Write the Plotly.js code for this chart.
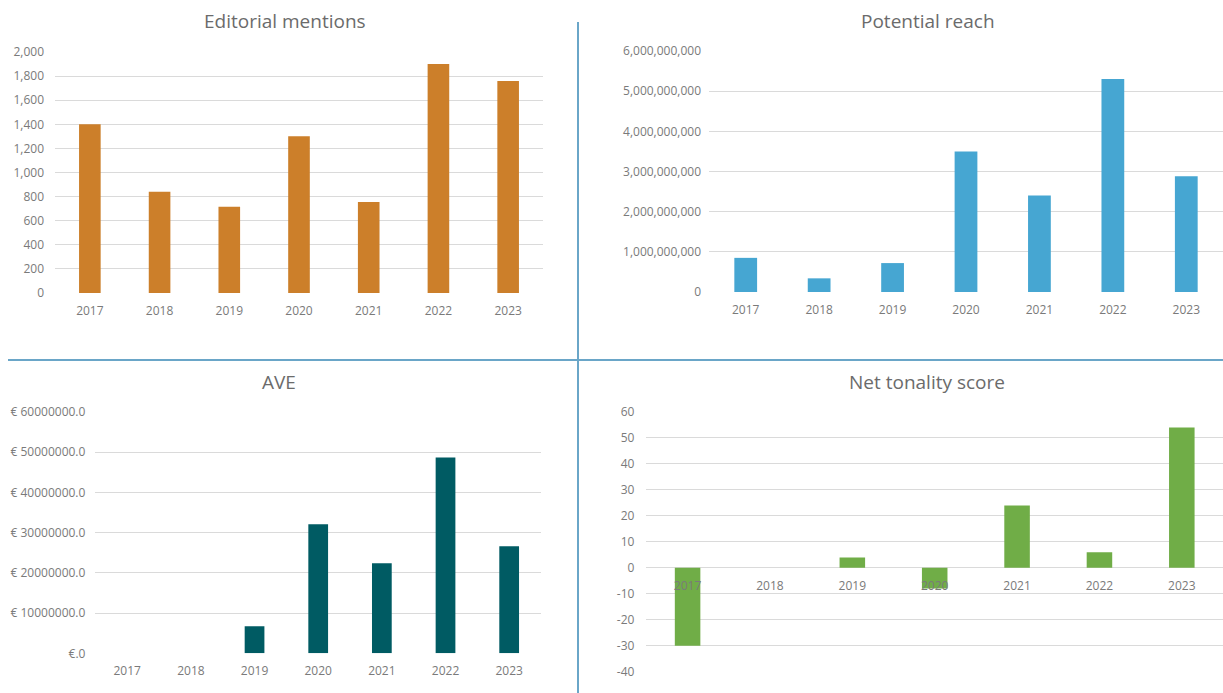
<!DOCTYPE html>
<html>
<head>
<meta charset="utf-8">
<script src="https://cdn.plot.ly/plotly-3.0.1.min.js"></script>
<style>html,body{margin:0;padding:0;background:#fff;}#chart{width:1223px;height:693px;}</style>
</head>
<body>
<div id="chart"></div>
<script>
// ---- Data ----
const years = ['2017', '2018', '2019', '2020', '2021', '2022', '2023'];
const editorialMentions = [1400, 840, 715, 1300, 755, 1900, 1760];
const potentialReach = [850000000, 340000000, 720000000, 3500000000, 2400000000, 5300000000, 2880000000];
const ave = [0, 0, 6700000, 32100000, 22400000, 48700000, 26600000];
const netTonality = [-30, 0, 4, -8, 24, 6, 54];

const titles = ['Editorial mentions', 'Potential reach', 'AVE', 'Net tonality score'];
const aveTickVals = [0, 10000000, 20000000, 30000000, 40000000, 50000000, 60000000];
const aveTickText = ['€.0', '€ 10000000.0', '€ 20000000.0', '€ 30000000.0', '€ 40000000.0', '€ 50000000.0', '€ 60000000.0'];
const ntsTickVals = [-40, -30, -20, -10, 0, 10, 20, 30, 40, 50, 60];
const ntsTickText = ['-40', '-30', '-20', '-10', '0', '10', '20', '30', '40', '50', '60'];

// ---- Styling ----
const W = 1223, H = 693;
const FONT = 'Open Sans, sans-serif';
const tickFont = {family: FONT, size: 12, color: '#7a7a7a'};
const gridColor = '#dadada';
const px = v => v / W;
const py = v => 1 - v / H;

const traces = [
  {type: 'bar', x: years, y: editorialMentions, xaxis: 'x', yaxis: 'y', marker: {color: '#CC7F2A'}},
  {type: 'bar', x: years, y: potentialReach, xaxis: 'x2', yaxis: 'y2', marker: {color: '#46A6D2'}},
  {type: 'bar', x: years, y: ave, xaxis: 'x3', yaxis: 'y3', marker: {color: '#005B63'}},
  {type: 'bar', x: years, y: netTonality, xaxis: 'x4', yaxis: 'y4', marker: {color: '#70AD47'}}
];

function xAx(domain, anchor, extra) {
  return Object.assign({
    domain: domain, anchor: anchor, type: 'category', showgrid: false, zeroline: false,
    showline: false, ticks: '', tickfont: tickFont, ticklabelstandoff: 9, fixedrange: true
  }, extra || {});
}
function yAx(domain, anchor, range, extra) {
  return Object.assign({
    domain: domain, anchor: anchor, range: range, showgrid: true, gridcolor: gridColor, gridwidth: 1,
    zeroline: false, showline: false, ticks: '', tickfont: tickFont, fixedrange: true
  }, extra || {});
}

const y4dom = [py(671.7), py(412)];
const y4range = [-40, 60];
const x4pos = y4dom[0] + (0 - y4range[0]) / (y4range[1] - y4range[0]) * (y4dom[1] - y4dom[0]);

const layout = {
  width: W, height: H,
  margin: {l: 0, r: 0, t: 0, b: 0},
  paper_bgcolor: '#ffffff', plot_bgcolor: '#ffffff',
  showlegend: false,
  bargap: 0.69,
  font: {family: FONT, color: '#7a7a7a'},
  xaxis: xAx([px(55), px(543)], 'y'),
  yaxis: yAx([py(293), py(52)], 'x', [0, 2000], {dtick: 200, tickformat: ',d', ticklabelstandoff: 10}),
  xaxis2: xAx([px(709), 1], 'y2'),
  yaxis2: yAx([py(292), py(51)], 'x2', [0, 6000000000], {dtick: 1000000000, tickformat: ',d', ticklabelstandoff: 7}),
  xaxis3: xAx([px(95.4), px(541)], 'y3'),
  yaxis3: yAx([py(653.3), py(412)], 'x3', [0, 60000000], {tickmode: 'array', tickvals: aveTickVals, ticktext: aveTickText, ticklabelstandoff: 9}),
  xaxis4: xAx([px(646.4), 1], 'free', {position: x4pos}),
  yaxis4: yAx(y4dom, 'x4', y4range, {tickmode: 'array', tickvals: ntsTickVals, ticktext: ntsTickText, ticklabelstandoff: 11}),
  annotations: [
    {x: px(285), y: py(21), text: titles[0]},
    {x: px(927.5), y: py(21), text: titles[1]},
    {x: px(279), y: py(381.7), text: titles[2]},
    {x: px(926.5), y: py(381.7), text: titles[3]}
  ].map(a => Object.assign(a, {xref: 'paper', yref: 'paper', xanchor: 'center', yanchor: 'middle', showarrow: false,
      font: {family: FONT, size: 19, color: '#6b6b6b'}})),
  shapes: [
    {type: 'line', xref: 'paper', yref: 'paper', x0: px(578), x1: px(578), y0: py(22), y1: 0, line: {color: '#6aa6c8', width: 2}},
    {type: 'line', xref: 'paper', yref: 'paper', x0: px(8), x1: 1, y0: py(360), y1: py(360), line: {color: '#6aa6c8', width: 2}}
  ]
};

Plotly.newPlot('chart', traces, layout, {displayModeBar: false, staticPlot: true});
</script>
</body>
</html>
